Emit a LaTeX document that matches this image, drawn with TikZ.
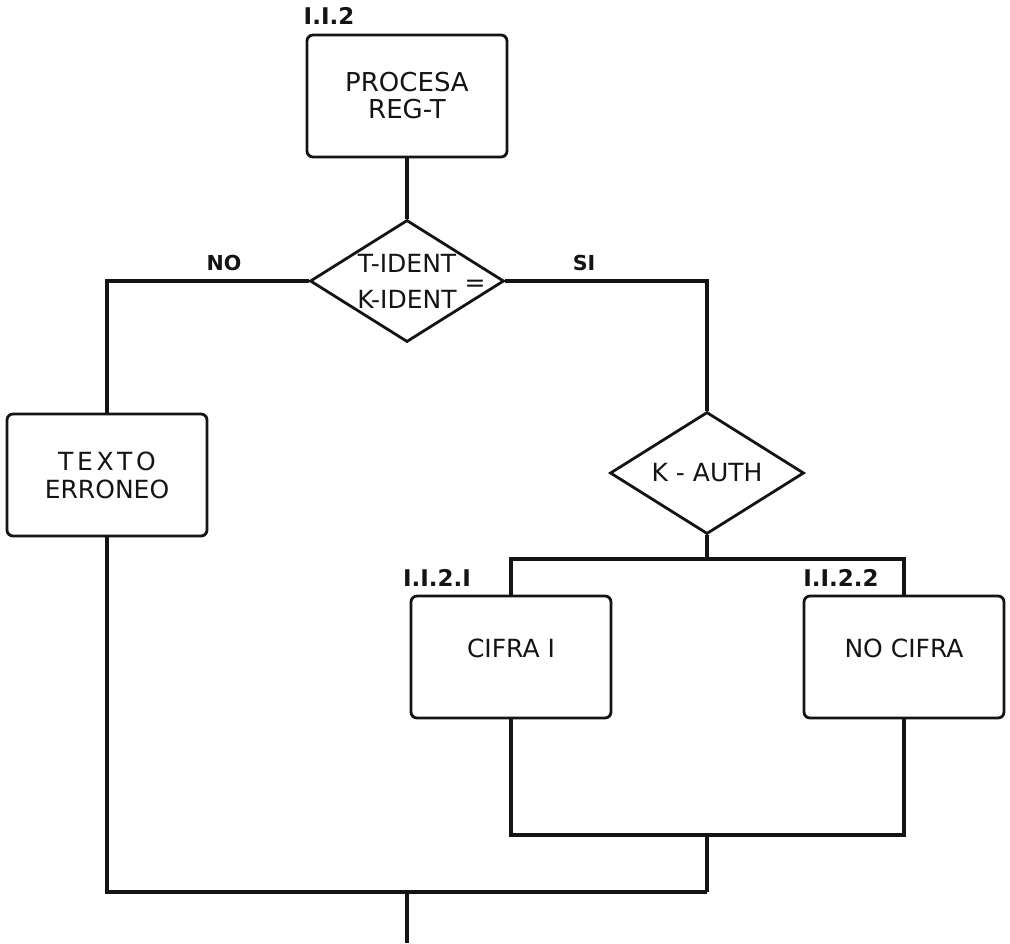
\documentclass[tikz,border=0pt]{standalone}
\usepackage{fontspec}
\setmainfont{DejaVu Sans}
\usetikzlibrary{shapes.geometric}
\definecolor{ink}{HTML}{141414}

\begin{document}
\begin{tikzpicture}[
  x=0.5pt, y=-0.5pt,
  proc/.style={draw=ink, line width=1.4pt, rounded corners=3pt, minimum width=100pt, minimum height=61pt, align=center, font=\fontsize{13}{13.5}\selectfont, text=ink},
  dec/.style={diamond, draw=ink, line width=1.4pt, minimum width=97pt, minimum height=61pt, inner sep=0pt, aspect=1.6, align=center, font=\fontsize{12.5}{18}\selectfont, text=ink},
  lnk/.style={draw=ink, line width=1.8pt},
  lbl/.style={font=\fontsize{10.3}{12}\bfseries\selectfont, text=ink, inner sep=1pt},
  num/.style={font=\fontsize{11.5}{13}\bfseries\selectfont, text=ink, inner sep=0pt},
]
\useasboundingbox (0,0) rectangle (1010,943);

\node[num] (n112) at (329,16) {I.I.2};
\node[proc] (procesa) at (407,96) {PROCESA\\REG-T};
\node[dec] (ident) at (407,281) {T-IDENT\\K-IDENT};
\node[font=\fontsize{12.5}{14}\selectfont, text=ink, inner sep=0pt] (eq) at (475,286) {=};
\node[proc, font=\fontsize{12.5}{14}\selectfont] (texto) at (107,475) {{\addfontfeature{LetterSpace=15}TEXTO}\\ERRONEO};
\node[dec] (kauth) at (707,473) {K - AUTH};
\node[num] (n1121) at (437,578) {I.I.2.I};
\node[proc, font=\fontsize{12.5}{14}\selectfont, text depth=9pt] (cifra) at (511,657) {CIFRA I};
\node[num] (n1122) at (841,578) {I.I.2.2};
\node[proc, font=\fontsize{12.5}{14}\selectfont, text depth=9pt] (nocifra) at (904,657) {NO CIFRA};

\coordinate (split) at (707,559);
\coordinate (join) at (707,835);
\coordinate (merge) at (707,892);
\coordinate (outtop) at (407,892);
\coordinate (fin) at (407,943);

\draw[lnk] (procesa) -- (ident);
\draw[lnk] (ident.west) -| node[lbl, pos=0.21, above=3pt] (no) {NO} (texto.north);
\draw[lnk] (ident.east) -| node[lbl, pos=0.195, above=3pt] (si) {SI} (kauth.north);
\draw[lnk] (kauth.south) -- (split);
\draw[lnk] (cifra.north) |- (split) -| (nocifra.north);
\draw[lnk] (cifra.south) |- (join) -| (nocifra.south);
\draw[lnk] (join) -- (merge);
\draw[lnk] (texto.south) |- (merge);
\draw[lnk] (outtop) -- (fin);

\end{tikzpicture}
\end{document}
